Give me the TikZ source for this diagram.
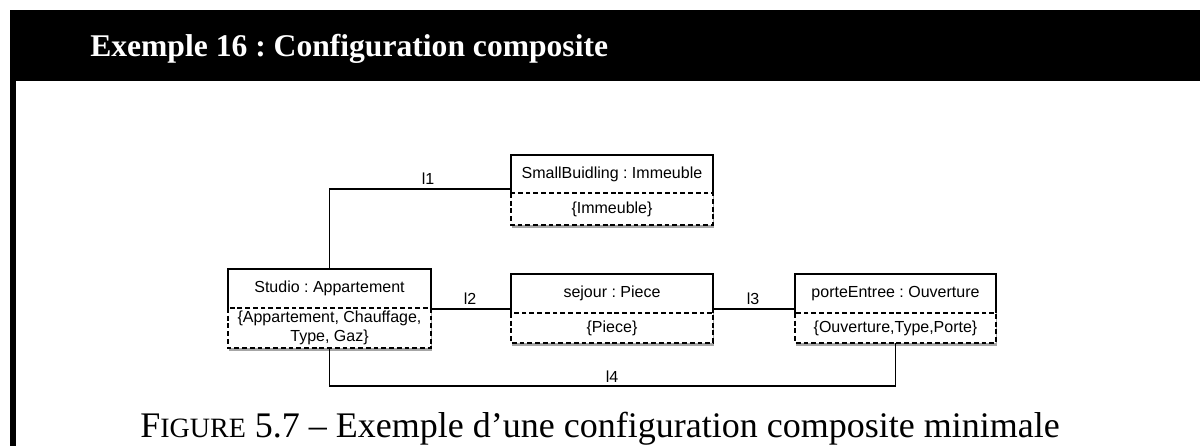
\documentclass[tikz,border=0pt]{standalone}
\usepackage{fontspec}
\setmainfont{Liberation Serif}
\newfontfamily\boxfont{Liberation Sans}
\frenchspacing
\usetikzlibrary{fit,shadows}
\tikzset{
  boxbg/.style={fill=white, draw=none, inner sep=0pt,
    drop shadow={shadow xshift=0.6pt, shadow yshift=-2.6pt, opacity=0.35, fill=black}},
  partbox/.style={draw=none, inner sep=0pt},
  outline/.style={line width=0.9pt, draw=black},
  dashline/.style={line width=0.9pt, draw=black, dash pattern=on 3.6pt off 2.2pt},
  boxtext/.style={font=\boxfont\fontsize{12}{14}\selectfont, align=center, inner sep=0pt},
  conn/.style={line width=0.9pt, draw=black},
  linklabel/.style={font=\boxfont\fontsize{12}{14}\selectfont, inner sep=0pt},
}
\newcommand\umlbox[8]{%
  \coordinate (#1-nw) at (#2,#3);
  \coordinate (#1-se) at (#4,#6);
  \coordinate (#1-dw) at (#2,#5);
  \coordinate (#1-de) at (#4,#5);
  \node[boxbg, fit=(#1-nw)(#1-se)] (#1) {};
  \node[partbox, fit=(#1-nw)(#1-de)] (#1-t) {};
  \node[partbox, fit=(#1-dw)(#1-se)] (#1-b) {};
  \draw[outline] (#1-dw) -- (#1-nw) -| (#1-de);
  \draw[dashline] (#1-dw) rectangle (#1-se);
  \node[boxtext] (#1-tt) at (#1-t.center) {#7};
  \node[boxtext] (#1-bt) at (#1-b.center) {#8};
}
\begin{document}
\frenchspacing
\begin{tikzpicture}[x=0.75pt, y=-0.75pt]
\useasboundingbox (0,0) rectangle (1200,446);
% frame
\fill[black] (10,10) rectangle (1200,81);
\fill[black] (10,80) rectangle (15.5,446);
\node[anchor=base west, text=white, inner sep=0pt, font=\bfseries\fontsize{23.7}{28}\selectfont] (title) at (90,56) {Exemple 16 : Configuration composite};
% boxes
\umlbox{sb}{511}{155}{713}{193}{225}{SmallBuidling : Immeuble}{\{Immeuble\}}
\umlbox{st}{228}{269}{431}{308}{348}{Studio : Appartement}{\{Appartement, Chauffage,\\Type, Gaz\}}
\umlbox{sj}{511}{274}{713}{313}{343}{sejour : Piece}{\{Piece\}}
\umlbox{pe}{795}{274}{996}{313}{343}{porteEntree : Ouverture}{\{Ouverture,Type,Porte\}}
% connectors
\coordinate (l1y) at (0,189);
\coordinate (l23y) at (0,309);
\coordinate (l4y) at (600,386);
\draw[conn] (st.north) |- (sb.west |- l1y);
\draw[conn] (st.east |- l23y) -- (sj.west |- l23y);
\draw[conn] (sj.east |- l23y) -- (pe.west |- l23y);
\draw[conn] (st.south) |- (l4y) -| (pe.south);
% labels
\node[linklabel] (lab1) at (428,179) {l1};
\node[linklabel] (lab2) at (470,299) {l2};
\node[linklabel] (lab3) at (753,299) {l3};
\node[linklabel] (lab4) at (612,377) {l4};
% caption
\node[anchor=base, inner sep=0pt, font=\fontsize{27}{31}\selectfont] (cap) at (600,437) {F{\fontsize{21}{24}\selectfont IGURE} 5.7 – Exemple d’une configuration composite minimale};
\end{tikzpicture}
\end{document}
